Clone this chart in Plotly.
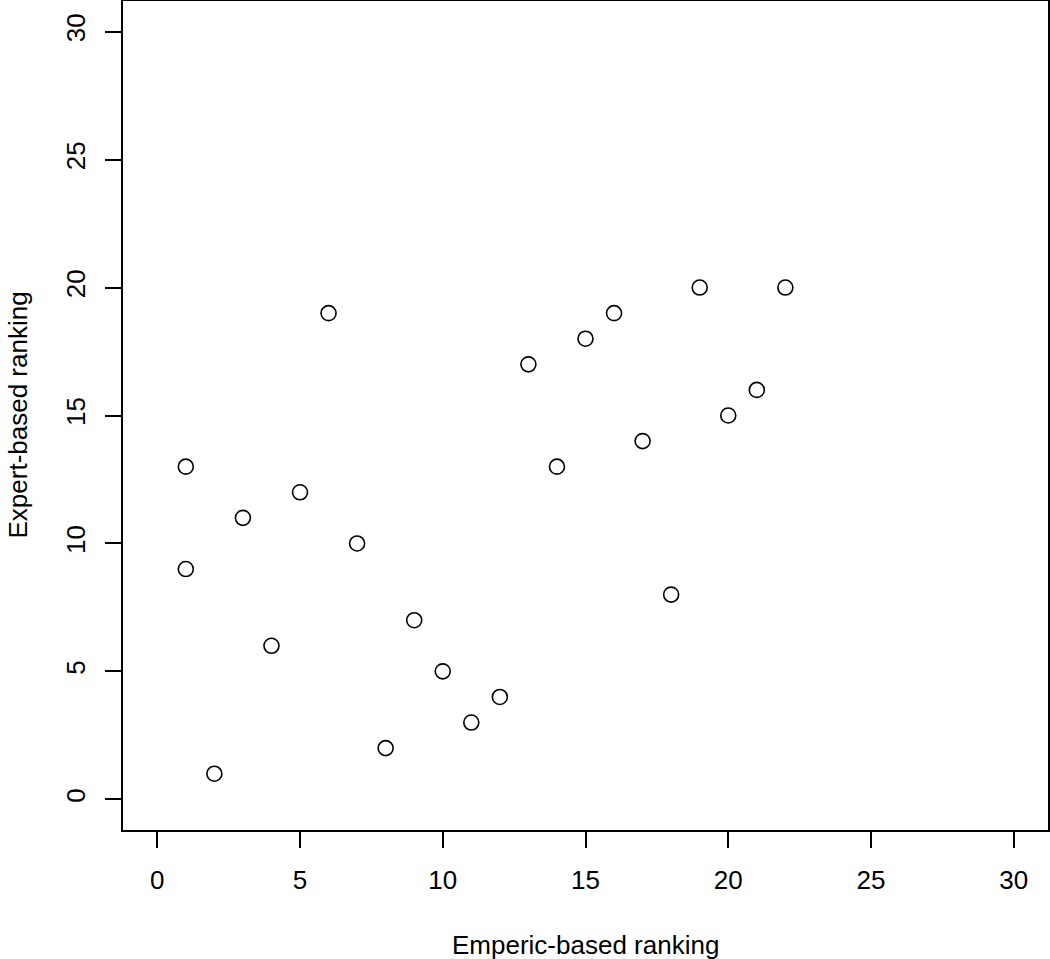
import plotly.graph_objects as go

# Rankings
emperic_rank = [1, 1, 2, 3, 4, 5, 6, 7, 8, 9, 10, 11, 12, 13, 14, 15, 16, 17, 18, 19, 20, 21, 22]
expert_rank = [13, 9, 1, 11, 6, 12, 19, 10, 2, 7, 5, 3, 4, 17, 13, 18, 19, 14, 8, 20, 15, 16, 20]
tick_vals = [0, 5, 10, 15, 20, 25, 30]

font = dict(family="Liberation Sans, Arial, sans-serif", size=26, color="black")

fig = go.Figure()
fig.add_trace(go.Scatter(
    x=emperic_rank, y=expert_rank, mode="markers",
    marker=dict(symbol="circle-open", size=15, color="black", line=dict(width=1.6)),
    showlegend=False,
))

axis_common = dict(
    range=[-1.2, 31.2], tickvals=tick_vals, ticks="outside", ticklen=16,
    tickwidth=1.5, tickcolor="black", showgrid=False, zeroline=False,
    showline=True, linecolor="black", linewidth=1.5, mirror=True,
    tickfont=font, automargin=False,
)

fig.update_xaxes(**axis_common, ticklabelstandoff=10)
fig.update_yaxes(**axis_common, tickangle=-90, ticklabelstandoff=10)

# axis titles placed like R's mtext lines
fig.add_annotation(text="Emperic-based ranking", xref="paper", yref="paper",
                   x=0.5, y=0, yanchor="middle", yshift=-115, showarrow=False, font=font)
fig.add_annotation(text="Expert-based ranking", xref="paper", yref="paper",
                   x=0, y=0.5, xanchor="center", xshift=-106, textangle=-90,
                   showarrow=False, font=font)

fig.update_layout(
    width=1050, height=959,
    margin=dict(l=123, r=2, t=1, b=129),
    plot_bgcolor="white", paper_bgcolor="white",
    font=font,
)

# drop the page's default body margin so the figure sits at the window corner
fig.write_html("out.html", config={"displayModeBar": False},
               post_script="document.body.style.margin='0';")
